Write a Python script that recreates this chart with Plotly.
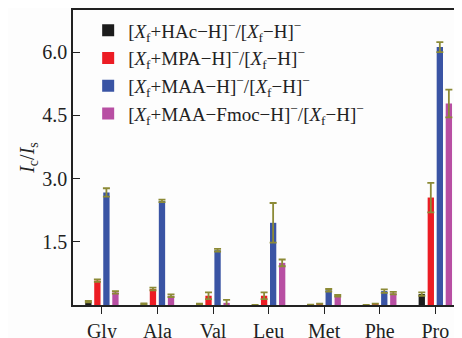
import plotly.graph_objects as go

categories = ["Gly", "Ala", "Val", "Leu", "Met", "Phe", "Pro"]
hac = [0.08, 0.03, 0.02, 0.0, 0.01, 0.0, 0.26]
hac_err = [0.02, 0.01, 0.01, 0.0, 0.0, 0.0, 0.04]
mpa = [0.58, 0.38, 0.22, 0.22, 0.03, 0.03, 2.55]
mpa_err = [0.03, 0.03, 0.08, 0.08, 0.0, 0.0, 0.35]
maa = [2.67, 2.47, 1.30, 1.95, 0.35, 0.33, 6.12]
maa_err = [0.1, 0.03, 0.03, 0.47, 0.03, 0.04, 0.12]
fmoc = [0.30, 0.22, 0.05, 1.0, 0.22, 0.28, 4.78]
fmoc_err = [0.03, 0.03, 0.07, 0.08, 0.02, 0.03, 0.33]

names = [
    "[<i>X</i><sub>f</sub>+HAc−H]<sup>−</sup>/[<i>X</i><sub>f</sub>−H]<sup>−</sup>",
    "[<i>X</i><sub>f</sub>+MPA−H]<sup>−</sup>/[<i>X</i><sub>f</sub>−H]<sup>−</sup>",
    "[<i>X</i><sub>f</sub>+MAA−H]<sup>−</sup>/[<i>X</i><sub>f</sub>−H]<sup>−</sup>",
    "[<i>X</i><sub>f</sub>+MAA−Fmoc−H]<sup>−</sup>/[<i>X</i><sub>f</sub>−H]<sup>−</sup>",
]
colors = ["#1c1c1c", "#ec1c24", "#3a54a4", "#b84fa3"]
series = [(hac, hac_err), (mpa, mpa_err), (maa, maa_err), (fmoc, fmoc_err)]

fig = go.Figure()
for (vals, errs), name, col in zip(series, names, colors):
    fig.add_trace(go.Bar(
        x=categories, y=vals, name=name,
        marker=dict(color=col, line=dict(width=0)),
        error_y=dict(type="data", array=errs, visible=True,
                     color="#8c8a36", thickness=1.8, width=3.5),
    ))

font = "Liberation Serif, Times New Roman, serif"
# page body has an 8px margin, so the figure is sized to fit the window
fig.update_layout(
    width=454, height=330,
    margin=dict(l=65, r=0, t=2, b=33),
    barmode="group", bargap=0.35, bargroupgap=0.3,
    paper_bgcolor="#fdfdfd", plot_bgcolor="#fdfdfd",
    font=dict(family=font, size=19, color="#222"),
    showlegend=True,
    legend=dict(x=0.039, y=0.995, xanchor="left", yanchor="top",
                bgcolor="rgba(0,0,0,0)", font=dict(size=19, family=font, color="#222"),
                tracegroupgap=0, itemwidth=30, traceorder="normal"),
    xaxis=dict(showline=True, linecolor="#222", linewidth=1.5, mirror=True,
               ticks="outside", ticklen=7, tickcolor="#222", automargin=False,
               range=[-0.52, 6.48], tickfont=dict(size=20, family=font, color="#222")),
    yaxis=dict(showline=True, linecolor="#222", linewidth=1.5,
               ticks="inside", ticklen=7, tickcolor="#222", automargin=False,
               range=[0, 7.0], tickvals=[1.5, 3.0, 4.5, 6.0],
               ticktext=["1.5", "3.0", "4.5", "6.0"], showgrid=False,
               zeroline=False, tickfont=dict(size=20, family=font, color="#222"),
               title=dict(text="<i>I</i><sub>c</sub>/<i>I</i><sub>s</sub>",
                          font=dict(size=20, family=font, color="#222"), standoff=2)),
)
fig.write_html("out.html")
